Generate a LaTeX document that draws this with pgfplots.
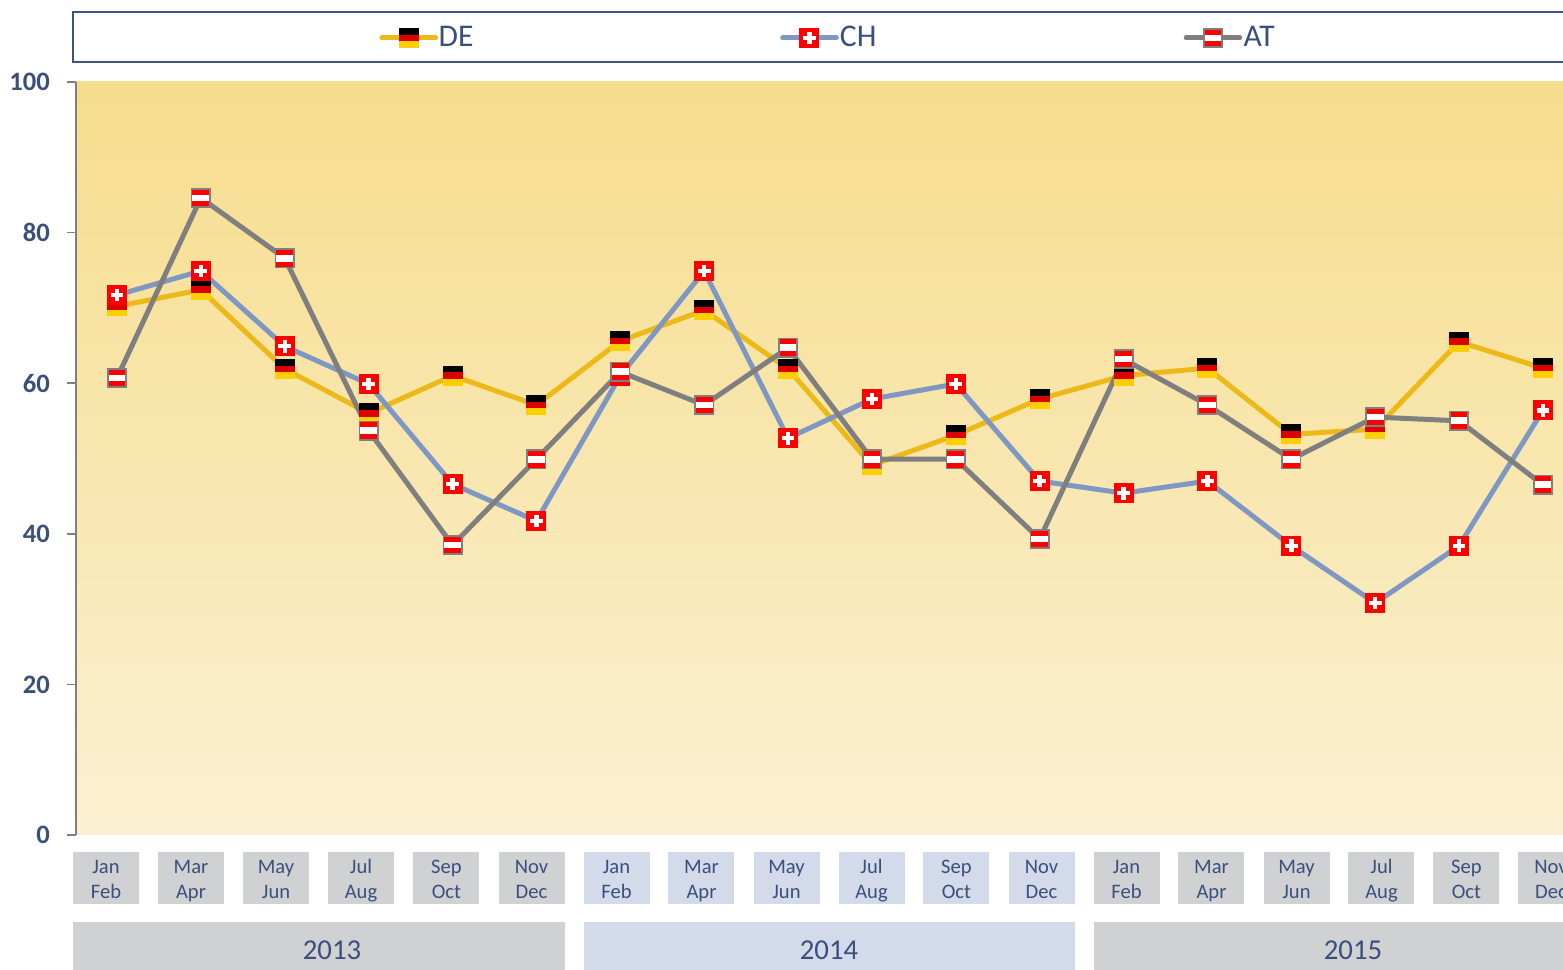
\documentclass[border=0pt]{standalone}
\usepackage{pgfplots}
\pgfplotsset{compat=1.18}
\usepackage{fontspec}
\setmainfont{Carlito}
\definecolor{txt}{HTML}{3B4F7D}
\definecolor{frame}{HTML}{3E5582}
\definecolor{gbox}{HTML}{D0D1D3}
\definecolor{bbox}{HTML}{D3DAE9}
\definecolor{deL}{HTML}{EDB918}
\definecolor{chL}{HTML}{7F97C3}
\definecolor{atL}{HTML}{7F7F7F}
\definecolor{bgT}{HTML}{F6DD8C}
\definecolor{bgB}{HTML}{FBF0D2}
\definecolor{flR}{HTML}{FF0000}
\definecolor{deR}{HTML}{DD0000}
\definecolor{deG}{HTML}{FFCE00}
\pgfdeclareplotmark{de}{%
  \pgfsetlinewidth{0pt}%
  \pgfsetfillcolor{black}\pgfpathrectangle{\pgfpoint{-5pt}{1.67pt}}{\pgfpoint{10pt}{3.33pt}}\pgfusepathqfill
  \pgfsetfillcolor{deR}\pgfpathrectangle{\pgfpoint{-5pt}{-1.67pt}}{\pgfpoint{10pt}{3.34pt}}\pgfusepathqfill
  \pgfsetfillcolor{deG}\pgfpathrectangle{\pgfpoint{-5pt}{-5pt}}{\pgfpoint{10pt}{3.33pt}}\pgfusepathqfill
}
\pgfdeclareplotmark{ch}{%
  \pgfsetfillcolor{flR}\pgfpathrectangle{\pgfpoint{-5pt}{-5pt}}{\pgfpoint{10pt}{10pt}}\pgfusepathqfill
  \pgfsetfillcolor{white}\pgfpathrectangle{\pgfpoint{-3.2pt}{-1.1pt}}{\pgfpoint{6.4pt}{2.2pt}}\pgfusepathqfill
  \pgfpathrectangle{\pgfpoint{-1.1pt}{-3.2pt}}{\pgfpoint{2.2pt}{6.4pt}}\pgfusepathqfill
}
\pgfdeclareplotmark{at}{%
  \pgfsetfillcolor{atL}\pgfpathrectangle{\pgfpoint{-5pt}{-5pt}}{\pgfpoint{10pt}{10pt}}\pgfusepathqfill
  \pgfsetfillcolor{flR}\pgfpathrectangle{\pgfpoint{-4.2pt}{-4.2pt}}{\pgfpoint{8.4pt}{8.4pt}}\pgfusepathqfill
  \pgfsetfillcolor{white}\pgfpathrectangle{\pgfpoint{-4.2pt}{-1.7pt}}{\pgfpoint{8.4pt}{3.4pt}}\pgfusepathqfill
}
\newcommand\lab[3]{{\setlength{\fboxsep}{0pt}\colorbox{#3}{\parbox[c][26pt][c]{33pt}{\vspace{3pt}\centering\strut #1\\\strut #2}}}}
\begin{document}
\begin{tikzpicture}
\useasboundingbox (0,0) rectangle (781.5pt,484.5pt);
\clip (0,0) rectangle (781.5pt,484.5pt);
\begin{scope}[x=0.5pt,y=-0.5pt,yshift=484.5pt]
  \draw[frame,line width=1pt,fill=white] (73,12) rectangle (1620,62);
  \fill[gbox] (73,922) rectangle (565,990);
  \fill[bbox] (584,922) rectangle (1075,990);
  \fill[gbox] (1094,922) rectangle (1640,990);
  \node[txt,font=\fontsize{14.4}{16}\selectfont] at (332,950) {2013};
  \node[txt,font=\fontsize{14.4}{16}\selectfont] at (829,950) {2014};
  \node[txt,font=\fontsize{14.4}{16}\selectfont] at (1353,950) {2015};
\end{scope}
\begin{axis}[
  at={(38pt,67pt)}, anchor=south west,
  scale only axis, width=757pt, height=376.5pt,
  xmin=-0.4888, xmax=17.5609, ymin=0, ymax=100,
  axis y line=left, axis x line=bottom,
  axis line style={-},
  y axis line style={draw=atL,line width=0.9pt},
  x axis line style={draw=none},
  axis background/.style={top color=bgT,bottom color=bgB},
  ytick={0,20,40,60,80,100},
  tick align=outside, major tick length=4.5pt,
  y tick style={draw=atL,line width=0.8pt},
  x tick style={draw=none},
  yticklabel style={font=\fontsize{13.3}{15}\selectfont\bfseries,text=txt,/pgf/number format/assume math mode=true,xshift=-5pt},
  xtick={-0.131,0.882,1.896,2.909,3.928,4.942,5.955,6.968,7.982,8.995,10.008,11.022,12.035,13.048,14.062,15.075,16.088,17.096},
  xticklabels={
   {\lab{Jan}{Feb}{gbox}},{\lab{Mar}{Apr}{gbox}},{\lab{May}{Jun}{gbox}},{\lab{Jul}{Aug}{gbox}},{\lab{Sep}{Oct}{gbox}},{\lab{Nov}{Dec}{gbox}},
   {\lab{Jan}{Feb}{bbox}},{\lab{Mar}{Apr}{bbox}},{\lab{May}{Jun}{bbox}},{\lab{Jul}{Aug}{bbox}},{\lab{Sep}{Oct}{bbox}},{\lab{Nov}{Dec}{bbox}},
   {\lab{Jan}{Feb}{gbox}},{\lab{Mar}{Apr}{gbox}},{\lab{May}{Jun}{gbox}},{\lab{Jul}{Aug}{gbox}},{\lab{Sep}{Oct}{gbox}},{\lab{Nov}{Dec}{gbox}}},
  xticklabel style={font=\fontsize{10.3}{12.5}\selectfont,text=txt,inner sep=0pt,anchor=north,yshift=-4pt},
  legend columns=3,
  legend style={at={(axis description cs:0.2002,1.0585)},anchor=west,draw=none,fill=none,inner sep=0pt,
    font=\fontsize{15.8}{18}\selectfont,text=txt,
    /tikz/column 1/.style={column sep=-1.7pt},
    /tikz/column 2/.style={column sep=151.3pt},
    /tikz/column 3/.style={column sep=-1.4pt},
    /tikz/column 4/.style={column sep=151.6pt},
    /tikz/column 5/.style={column sep=-1.4pt}},
  legend cell align=left,
  legend image code/.code={\draw[#1,mark repeat=2,mark phase=2] plot coordinates {(0pt,0pt)(13.4pt,0pt)(26.8pt,0pt)};},
  every axis plot/.append style={line width=2.5pt,line cap=round,line join=round},
]
\addplot[deL,mark=de] coordinates {(0,70.2)(1,72.4)(2,61.9)(3,56)(4,61)(5,57.1)(6,65.6)(7,69.7)(8,61.9)(9,49.1)(10,53.1)(11,57.9)(12,61)(13,62)(14,53.2)(15,53.9)(16,65.5)(17,62)};
\addlegendentry{DE}
\addplot[chL,mark=ch] coordinates {(0,71.7)(1,74.9)(2,64.9)(3,59.9)(4,46.6)(5,41.7)(6,61)(7,74.9)(8,52.7)(9,57.9)(10,59.9)(11,47)(12,45.4)(13,47)(14,38.4)(15,30.8)(16,38.4)(17,56.4)};
\addlegendentry{CH}
\addplot[atL,mark=at] coordinates {(0,60.7)(1,84.6)(2,76.6)(3,53.7)(4,38.5)(5,49.9)(6,61.5)(7,57.1)(8,64.7)(9,49.9)(10,49.9)(11,39.3)(12,63.2)(13,57.1)(14,49.9)(15,55.5)(16,55)(17,46.5)};
\addlegendentry{AT}
\end{axis}
\end{tikzpicture}
\end{document}
